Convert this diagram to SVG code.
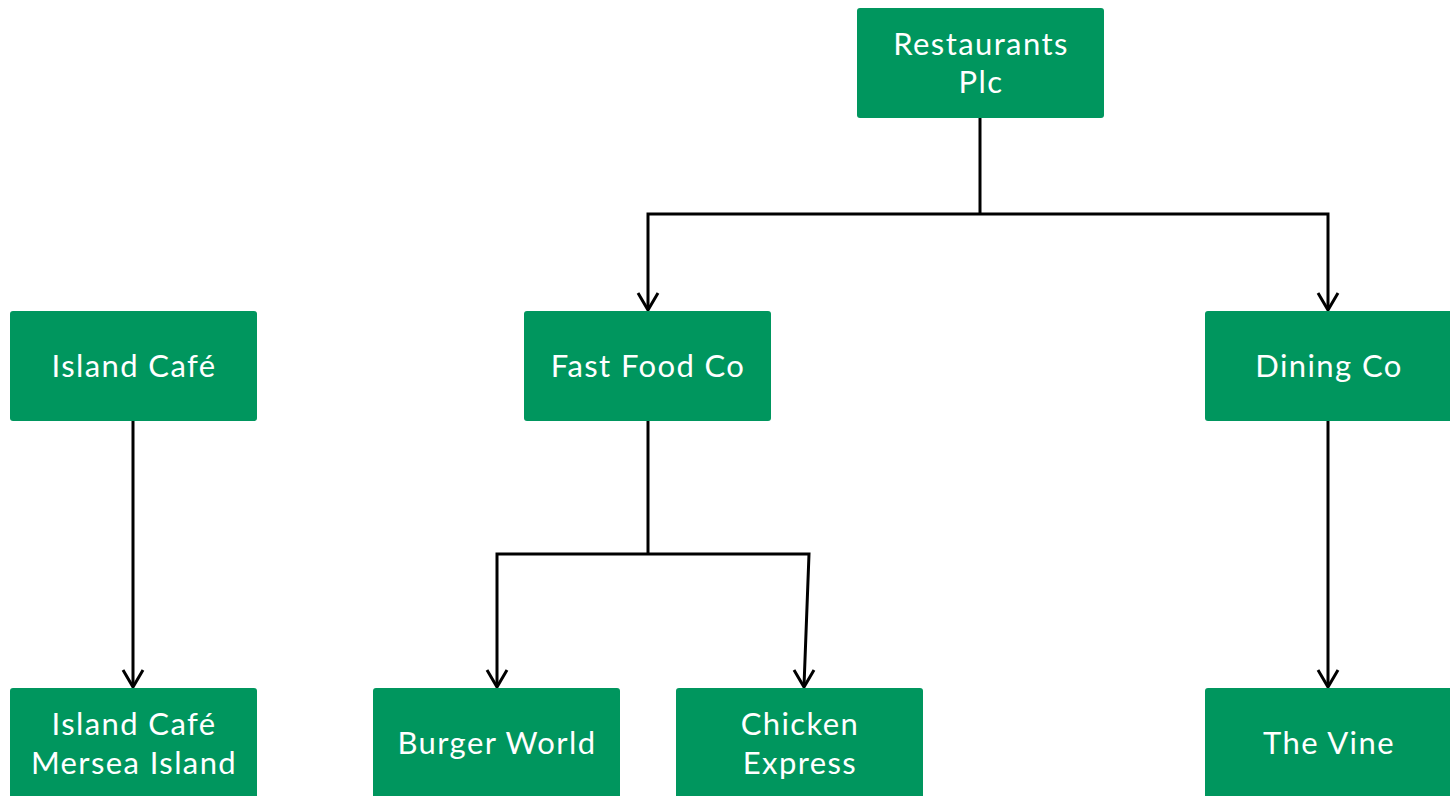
<svg xmlns="http://www.w3.org/2000/svg" width="1450" height="796" viewBox="0 0 1450 796">
<style>
.box{fill:#00965e;}
.t{font-family:Lato,"Open Sans","Liberation Sans",sans-serif;font-size:31px;letter-spacing:1.4px;fill:#ffffff;text-anchor:middle;}
.c{fill:none;stroke:#000;stroke-width:3;stroke-linejoin:miter;}
</style>
<rect width="1450" height="796" fill="#fff"/>
<g id="connectors" class="c">
<polyline points="980,118 980,214"/>
<polyline points="648,309 648,214 1328,214 1328,309"/>
<polyline points="648,421 648,554"/>
<polyline points="497,686 497,554 809,554 804,686"/>
<polyline points="133,421 133,686"/>
<polyline points="1328,421 1328,686"/>
<polyline points="638,293 648,310 658,293"/>
<polyline points="1318,293 1328,310 1338,293"/>
<polyline points="487,670 497,687 507,670"/>
<polyline points="794,670 804,687 814,670"/>
<polyline points="123,670 133,687 143,670"/>
<polyline points="1318,670 1328,687 1338,670"/>
</g>
<g id="restaurants-plc"><rect class="box" x="857" y="8" width="247" height="110" rx="3"/><text class="t" x="981" y="55">Restaurants</text><text class="t" x="981" y="93">Plc</text></g>
<g id="island-cafe"><rect class="box" x="10" y="311" width="247" height="110" rx="3"/><text class="t" x="134" y="377">Island Café</text></g>
<g id="fast-food-co"><rect class="box" x="524" y="311" width="247" height="110" rx="3"/><text class="t" x="648" y="377">Fast Food Co</text></g>
<g id="dining-co"><rect class="box" x="1205" y="311" width="250" height="110" rx="3"/><text class="t" x="1329" y="377">Dining Co</text></g>
<g id="island-cafe-mersea"><rect class="box" x="10" y="688" width="247" height="115" rx="3"/><text class="t" x="134" y="735">Island Café</text><text class="t" x="134" y="774">Mersea Island</text></g>
<g id="burger-world"><rect class="box" x="373" y="688" width="247" height="115" rx="3"/><text class="t" x="497" y="754">Burger World</text></g>
<g id="chicken-express"><rect class="box" x="676" y="688" width="247" height="115" rx="3"/><text class="t" x="800" y="735">Chicken</text><text class="t" x="800" y="774">Express</text></g>
<g id="the-vine"><rect class="box" x="1205" y="688" width="250" height="115" rx="3"/><text class="t" x="1329" y="754">The Vine</text></g>
</svg>
